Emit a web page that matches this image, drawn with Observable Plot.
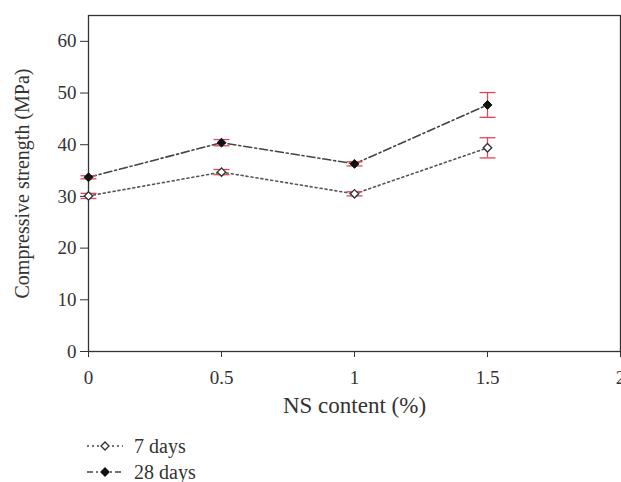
<!DOCTYPE html>
<html>
<head>
<meta charset="utf-8">
<script src="https://cdn.jsdelivr.net/npm/d3@7"></script>
<script src="https://cdn.jsdelivr.net/npm/@observablehq/plot@0.6"></script>
<style>
  html, body { margin: 0; padding: 0; background: #fff; overflow: hidden; }
  #chart { width: 621px; height: 482px; position: relative; overflow: hidden; }
  #legend { font-family: "Liberation Serif", serif; font-size: 20px; color: #333; position: absolute; left: 86px; top: 433px; }
  #legend .row { display: flex; align-items: center; height: 26px; }
  #legend svg { margin-right: 10px; }
</style>
</head>
<body>
<div id="chart"></div>
<script>
const nsContent = [0, 0.5, 1, 1.5];
const days7 = [30.1, 34.7, 30.5, 39.4];
const days7Err = [0.5, 0.5, 0.4, 1.95];
const days28 = [33.7, 40.4, 36.3, 47.7];
const days28Err = [0.3, 0.6, 0.4, 2.4];
const xTicks = [0, 0.5, 1, 1.5, 2];
const yTicks = [0, 10, 20, 30, 40, 50, 60];
const xLabel = "NS content (%)";
const yLabel = "Compressive strength (MPa)";

const s7 = nsContent.map((x, i) => ({x, y: days7[i], e: days7Err[i]}));
const s28 = nsContent.map((x, i) => ({x, y: days28[i], e: days28Err[i]}));
const all = [...s7, ...s28];
const cap = 0.03;
const red = "#e0455a";
const ink = "#333";

const plot = Plot.plot({
  width: 621,
  height: 425,
  marginLeft: 88,
  marginRight: 1,
  marginTop: 15,
  marginBottom: 74,
  style: {fontFamily: "Liberation Serif, serif", fontSize: "19px", color: ink, background: "white"},
  x: {domain: [0, 2], ticks: xTicks},
  y: {domain: [0, 65], ticks: yTicks},
  marks: [
    Plot.frame({stroke: ink, strokeWidth: 1.3}),
    Plot.axisX({ticks: xTicks, tickSize: 6, tickPadding: 13, tickFormat: d => String(d), fontSize: 19, label: null}),
    Plot.axisY({ticks: yTicks, tickSize: 8, tickPadding: 4, fontSize: 19, label: null}),
    Plot.text([xLabel], {frameAnchor: "bottom", dy: 61, text: d => d, fontSize: 23, fill: ink}),
    Plot.text([yLabel], {frameAnchor: "left", textAnchor: "middle", dx: -66, rotate: -90, text: d => d, fontSize: 20, fill: ink}),
    Plot.line(s28, {x: "x", y: "y", stroke: "#444", strokeWidth: 1.6, strokeDasharray: "8,3,2,3"}),
    Plot.line(s7, {x: "x", y: "y", stroke: "#555", strokeWidth: 1.6, strokeDasharray: "2,3"}),
    Plot.ruleX(all, {x: "x", y1: d => d.y - d.e, y2: d => d.y + d.e, stroke: red, strokeWidth: 1.3}),
    Plot.link(all, {x1: d => d.x - cap, x2: d => d.x + cap, y1: d => d.y + d.e, y2: d => d.y + d.e, stroke: red, strokeWidth: 1.3}),
    Plot.link(all, {x1: d => d.x - cap, x2: d => d.x + cap, y1: d => d.y - d.e, y2: d => d.y - d.e, stroke: red, strokeWidth: 1.3}),
    Plot.dot(s7, {x: "x", y: "y", symbol: "diamond2", r: 3.8, stroke: "#333", strokeWidth: 1.4, fill: "white"}),
    Plot.dot(s28, {x: "x", y: "y", symbol: "diamond2", r: 4, fill: "#111", stroke: "#111", strokeWidth: 1})
  ]
});
document.getElementById("chart").appendChild(plot);

const legend = document.createElement("div");
legend.id = "legend";
const items = [
  {label: "7 days", dash: "2,3", filled: false},
  {label: "28 days", dash: "6,3,2,3", filled: true}
];
for (const it of items) {
  const row = document.createElement("div");
  row.className = "row";
  const sv = d3.create("svg").attr("width", 38).attr("height", 14);
  sv.append("line").attr("x1", 1).attr("x2", 37).attr("y1", 7).attr("y2", 7)
    .attr("stroke", "#444").attr("stroke-width", 1.6).attr("stroke-dasharray", it.dash);
  sv.append("path").attr("d", "M19,3L23,7L19,11L15,7Z")
    .attr("fill", it.filled ? "#111" : "white").attr("stroke", it.filled ? "#111" : "#333").attr("stroke-width", 1.3);
  row.appendChild(sv.node());
  const t = document.createElement("span");
  t.textContent = it.label;
  row.appendChild(t);
  legend.appendChild(row);
}
document.getElementById("chart").appendChild(legend);
</script>
</body>
</html>
